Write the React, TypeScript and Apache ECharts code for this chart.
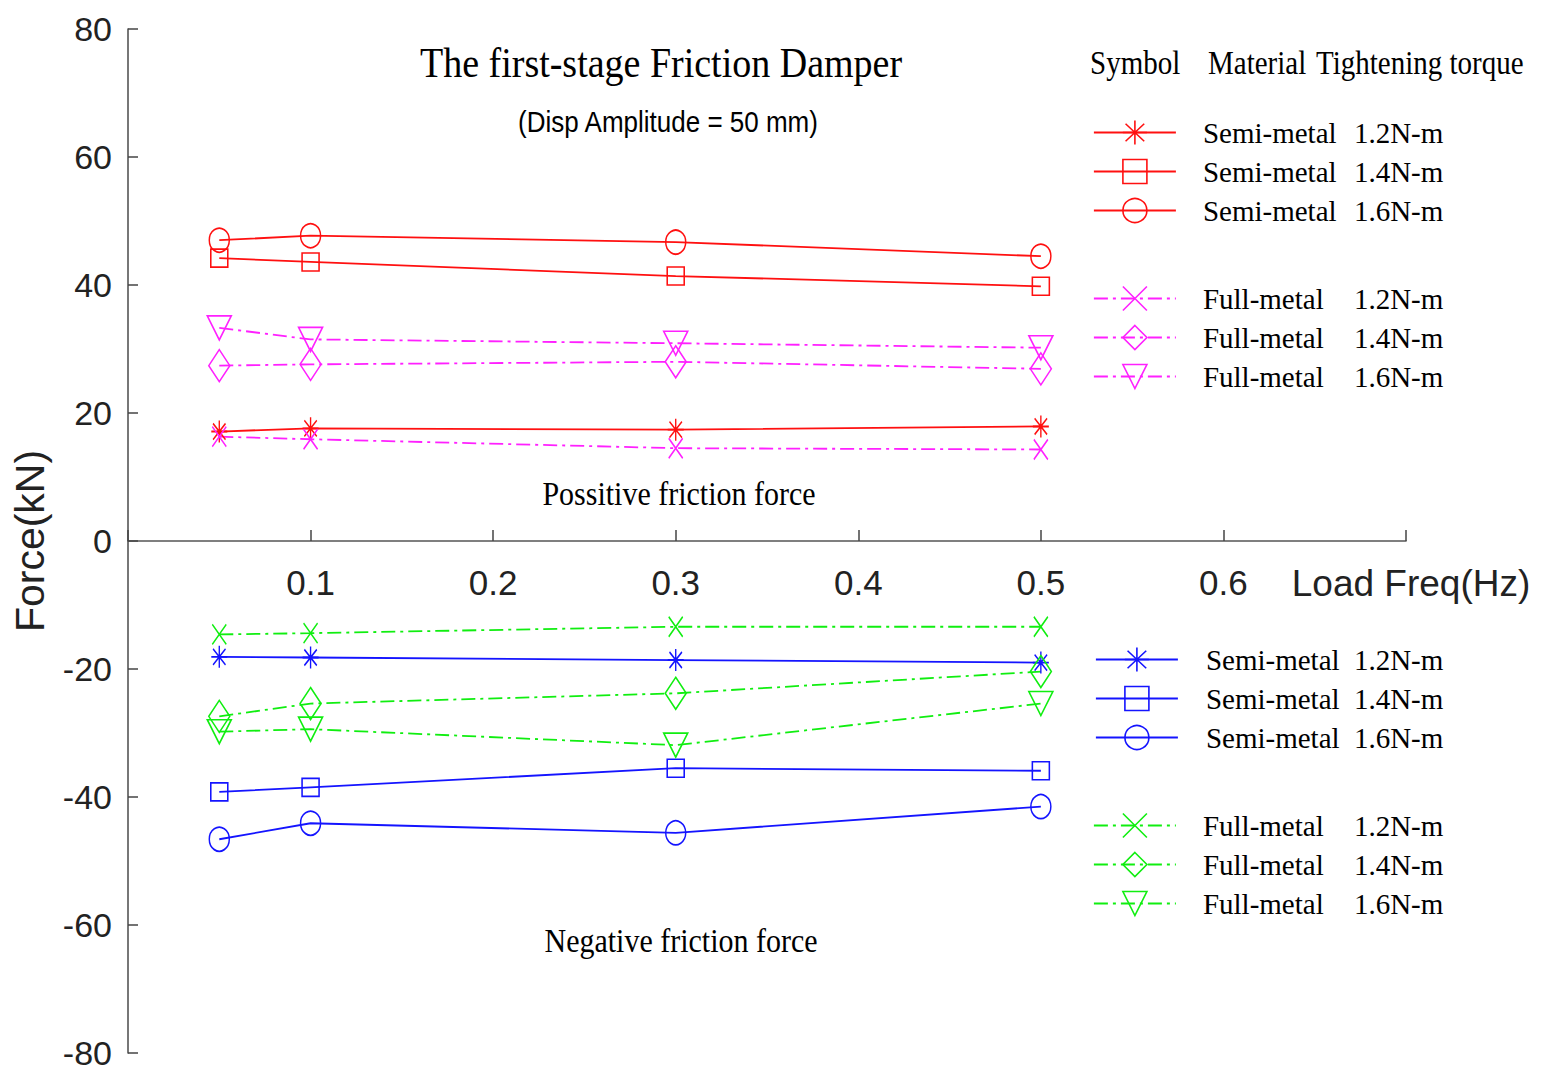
import React, { useEffect, useRef } from "react";
import * as echarts from "echarts";

// ---- data ----
const freq = [0.05, 0.1, 0.3, 0.5];
const posSemi12 = [17.1, 17.6, 17.4, 17.9];
const posSemi14 = [44.2, 43.6, 41.4, 39.8];
const posSemi16 = [47.0, 47.7, 46.7, 44.5];
const posFull12 = [16.3, 15.9, 14.5, 14.3];
const posFull14 = [27.4, 27.6, 28.0, 26.9];
const posFull16 = [33.3, 31.5, 30.9, 30.2];
const negSemi12 = [-18.1, -18.2, -18.6, -19.0];
const negSemi14 = [-39.2, -38.5, -35.5, -35.9];
const negSemi16 = [-46.6, -44.1, -45.6, -41.5];
const negFull12 = [-14.6, -14.4, -13.4, -13.4];
const negFull14 = [-27.4, -25.4, -23.8, -20.4];
const negFull16 = [-29.8, -29.4, -31.9, -25.4];

const xTickLabels = ["", "0.1", "0.2", "0.3", "0.4", "0.5", "0.6", "Load Freq(Hz)"];
const materials = ["Semi-metal", "Full-metal"];
const torques = ["1.2N-m", "1.4N-m", "1.6N-m"];

const RED = "#ff1010";
const MAGENTA = "#ff20ff";
const BLUE = "#1414ff";
const GREEN = "#10ee10";

const SYM = {
  star: "path://M0,-11L0,11M-9,0L9,0M-7,-8L7,8M-7,8L7,-8",
  square: "path://M-9,-9L9,-9L9,9L-9,9Z",
  circle: "circle",
  cross: "path://M-5,-7L5,7M-5,7L5,-7",
  diamond: "path://M0,-16L10,0L0,16L-10,0Z",
  tri: "path://M-12,-10L12,-10L0,12Z",
};
const SIZE = {
  star: [16, 22],
  square: [17, 18],
  circle: [20, 24],
  cross: [14, 20],
  diamond: [21, 32],
  tri: [24, 24],
};

const DASHDOT = [14, 5, 3, 5];

function mk(id: string, mat: number, tq: number, vals: number[], color: string, sym: string, dashed: boolean) {
  return {
    name: id + "|" + mat + "|" + tq,
    type: "line",
    data: freq.map((f, i) => [f, vals[i]]),
    symbol: (SYM as any)[sym],
    symbolSize: (SIZE as any)[sym],
    itemStyle: { color: "rgba(0,0,0,0)", borderColor: color, borderWidth: 1.6 },
    lineStyle: { color, width: 1.8, type: dashed ? DASHDOT : "solid" },
    emphasis: { disabled: true },
  };
}

const series = [
  mk("p", 0, 0, posSemi12, RED, "star", false),
  mk("p", 0, 1, posSemi14, RED, "square", false),
  mk("p", 0, 2, posSemi16, RED, "circle", false),
  mk("p", 1, 0, posFull12, MAGENTA, "cross", true),
  mk("p", 1, 1, posFull14, MAGENTA, "diamond", true),
  mk("p", 1, 2, posFull16, MAGENTA, "tri", true),
  mk("n", 0, 0, negSemi12, BLUE, "star", false),
  mk("n", 0, 1, negSemi14, BLUE, "square", false),
  mk("n", 0, 2, negSemi16, BLUE, "circle", false),
  mk("n", 1, 0, negFull12, GREEN, "cross", true),
  mk("n", 1, 1, negFull14, GREEN, "diamond", true),
  mk("n", 1, 2, negFull16, GREEN, "tri", true),
];

const SERIF = "Liberation Serif, Times New Roman, serif";
const SANS = "Liberation Sans, Arial, sans-serif";

function legend(names: string[], left: number, top: number, pad: number, colW: number) {
  return {
    orient: "vertical",
    left,
    top,
    padding: 0,
    itemWidth: 82,
    itemHeight: 30,
    itemGap: 10,
    align: "left",
    selectedMode: false,
    data: names,
    itemStyle: { borderWidth: 1.6 },
    lineStyle: { width: 1.8 },
    formatter: (n: string) => {
      const parts = n.split("|");
      return `{p| }{m|${materials[+parts[1]]}}{t|${torques[+parts[2]]}}`;
    },
    textStyle: {
      fontFamily: SERIF,
      fontSize: 29,
      color: "#000",
      lineHeight: 26,
      rich: {
        p: { width: pad, fontSize: 29, fontFamily: SERIF, lineHeight: 26 },
        m: { width: colW, fontSize: 29, fontFamily: SERIF, color: "#000", lineHeight: 26 },
        t: { fontSize: 29, fontFamily: SERIF, color: "#000", lineHeight: 26 },
      },
    },
  };
}

const names = series.map((s) => s.name);

function txt(text: string, x: number, y: number, size: number, family: string, align = "center", sy = 1.15) {
  return {
    type: "text",
    x,
    y,
    scaleY: sy,
    silent: true,
    style: {
      text,
      fontSize: size,
      fontFamily: family,
      fill: "#000",
      align,
      verticalAlign: "middle",
    },
  };
}

const GRID_TOP = 29;
const GRID_BOTTOM = 34;
const CHART_H = 1087;

export default function App() {
  const ref = useRef<HTMLDivElement>(null);
  useEffect(() => {
    if (!ref.current) return;
    const chart = echarts.init(ref.current, null, { renderer: "svg" });
    const gridH = CHART_H - GRID_TOP - GRID_BOTTOM;
    chart.setOption({
      animation: false,
      backgroundColor: "#fff",
      grid: { left: 128, top: GRID_TOP, right: 139, bottom: GRID_BOTTOM, containLabel: false, outerBoundsMode: "none" },
      xAxis: {
        type: "value",
        min: 0,
        max: 0.7,
        interval: 0.1,
        position: "bottom",
        offset: -gridH / 2,
        axisLine: { onZero: false, lineStyle: { color: "#555", width: 1.6 } },
        axisTick: { inside: true, length: 11, lineStyle: { color: "#444", width: 1.5 } },
        splitLine: { show: false },
        axisLabel: {
          margin: 24,
          fontSize: 35,
          fontFamily: SANS,
          color: "#222",
          showMinLabel: true,
          showMaxLabel: true,
          formatter: (v: number) => {
            const i = Math.round(v * 10);
            const s = xTickLabels[i] ?? "";
            return i === 7 ? `{n|${s}}` : s;
          },
          rich: { n: { fontSize: 37, fontFamily: SANS, color: "#222", padding: [0, 0, 0, 10] } },
        },
      },
      yAxis: {
        type: "value",
        min: -80,
        max: 80,
        interval: 20,
        name: "Force(kN)",
        nameLocation: "middle",
        nameGap: 78,
        nameTextStyle: { fontSize: 41, fontFamily: SANS, color: "#222" },
        axisLine: { lineStyle: { color: "#555", width: 1.6 } },
        axisTick: { inside: true, length: 10, lineStyle: { color: "#444", width: 1.5 } },
        splitLine: { show: false },
        axisLabel: { margin: 16, fontSize: 34, fontFamily: SANS, color: "#222" },
      },
      legend: [
        legend(names.slice(0, 3), 1093, 118, 22, 151),
        legend(names.slice(3, 6), 1093, 284, 22, 151),
        legend(names.slice(6, 9), 1095, 645, 23, 148),
        legend(names.slice(9, 12), 1093, 811, 22, 151),
      ],
      graphic: [
        txt("The first-stage Friction Damper", 661, 63, 38, SERIF, "center", 1.13),
        txt("(Disp Amplitude = 50 mm)", 668, 122, 26, SANS, "center", 1.1),
        txt("Symbol", 1090, 63, 29, SERIF, "left"),
        txt("Material", 1208, 63, 29, SERIF, "left"),
        txt("Tightening torque", 1316, 63, 29, SERIF, "left"),
        txt("Possitive friction force", 679, 493, 30, SERIF),
        txt("Negative friction force", 681, 940, 30, SERIF),
      ],
      series,
    });
    return () => chart.dispose();
  }, []);
  return <div ref={ref} style={{ position: "absolute", left: 0, top: 0, width: 1545, height: CHART_H }} />;
}
